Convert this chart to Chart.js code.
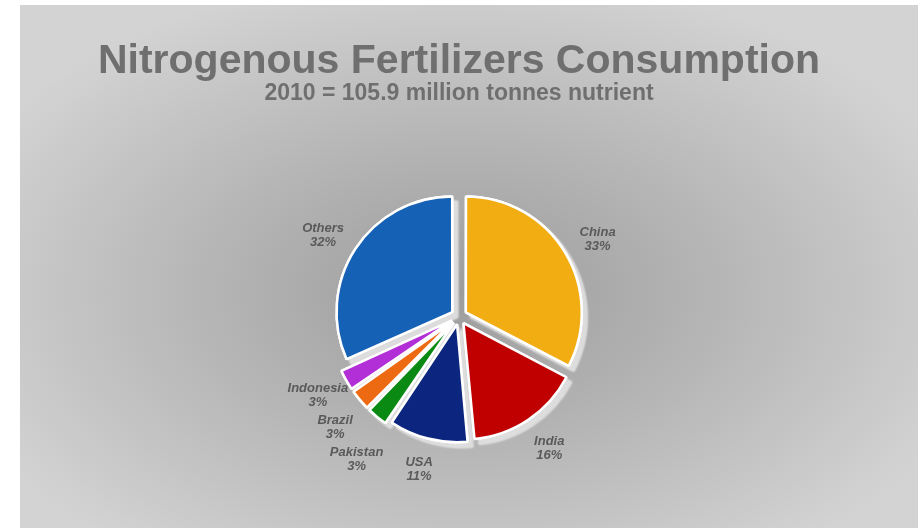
<!DOCTYPE html>
<html>
<head>
<meta charset="utf-8">
<script src="https://cdn.jsdelivr.net/npm/chart.js@4"></script>
<style>
  html, body { margin: 0; padding: 0; background: #fff; }
  #panel {
    position: absolute; left: 20px; top: 5px; width: 898px; height: 523px;
    background: radial-gradient(ellipse 60% 62% at 49% 55%, #9c9c9c 0%, #b4b4b4 45%, #d3d3d3 100%);
  }
  #wrap { position: absolute; left: 0; top: 0; width: 918px; height: 528px; }
</style>
</head>
<body>
<div id="panel"></div>
<div id="wrap"><canvas id="fert"></canvas></div>
<script>
const countries = ['China', 'India', 'USA', 'Pakistan', 'Brazil', 'Indonesia', 'Others']
const shares = [33, 16, 11, 3, 3, 3, 32]
const sliceColors = ['#f2ad13', '#c00000', '#0c2680', '#0a8a12', '#ee6a12', '#b22ed6', '#1461b6']

const titleText = 'Nitrogenous Fertilizers Consumption'
const subtitleText = '2010 = 105.9 million tonnes nutrient'

// light "3d" edge behind the slices: one pass of shadows first, slices drawn over it
const sliceShadow = {
    id: 'sliceShadow',
    beforeDatasetsDraw(chart) {
        const ctx = chart.ctx
        ctx.save()
        ctx.shadowColor = 'rgba(226,226,226,0.9)'
        ctx.shadowOffsetX = 5
        ctx.shadowOffsetY = 5
        ctx.shadowBlur = 2
        chart.getDatasetMeta(0).data.forEach(arc => arc.draw(ctx))
        ctx.restore()
    }
}

// "Name / NN%" labels just outside each slice
const outerLabels = {
    id: 'outerLabels',
    afterDatasetsDraw(chart) {
        const ctx = chart.ctx
        const meta = chart.getDatasetMeta(0)
        const values = chart.data.datasets[0].data
        const items = meta.data.map((arc, i) => {
            const p = arc.getProps(['x', 'y', 'startAngle', 'endAngle', 'outerRadius'], true)
            const mid = (p.startAngle + p.endAngle) / 2
            return {
                i,
                x: p.x + Math.cos(mid) * (p.outerRadius + 47),
                y: p.y + Math.sin(mid) * (p.outerRadius + 40) + 3
            }
        })
        // push overlapping labels apart (only when they sit above each other)
        const sorted = items.slice().sort((a, b) => a.y - b.y)
        for (let k = 1; k < sorted.length; k++) {
            for (let j = 0; j < k; j++) {
                const a = sorted[j], b = sorted[k]
                if (Math.abs(a.x - b.x) < 50 && b.y - a.y < 32) b.y = a.y + 32
            }
        }
        ctx.save()
        ctx.font = 'italic bold 13px "Liberation Sans", Arial, sans-serif'
        ctx.fillStyle = '#5a5a5a'
        ctx.textAlign = 'center'
        ctx.textBaseline = 'middle'
        items.forEach(it => {
            ctx.fillText(chart.data.labels[it.i], it.x, it.y - 7)
            ctx.fillText(values[it.i] + '%', it.x, it.y + 7)
        })
        ctx.restore()
    }
}

new Chart(document.getElementById('fert'), {
    type: 'pie',
    data: {
        labels: countries,
        datasets: [{
            data: shares,
            backgroundColor: sliceColors,
            borderColor: '#ffffff',
            borderWidth: 2.5,
            offset: 32,
            radius: 115
        }]
    },
    options: {
        responsive: true,
        maintainAspectRatio: false,
        animation: false,
        layout: { padding: { top: 5, bottom: 10 } },
        plugins: {
            legend: { display: false },
            tooltip: { enabled: false },
            title: {
                display: true,
                text: titleText,
                color: '#6f6f6f',
                font: { family: '"Liberation Sans", Arial, sans-serif', size: 41, weight: 'bold', lineHeight: 1.0 },
                padding: { top: 36, bottom: 0 }
            },
            subtitle: {
                display: true,
                text: subtitleText,
                color: '#6f6f6f',
                font: { family: '"Liberation Sans", Arial, sans-serif', size: 23, weight: 'bold', lineHeight: 1.0 },
                padding: { top: 0, bottom: 10 }
            }
        }
    },
    plugins: [sliceShadow, outerLabels]
})
</script>
</body>
</html>
